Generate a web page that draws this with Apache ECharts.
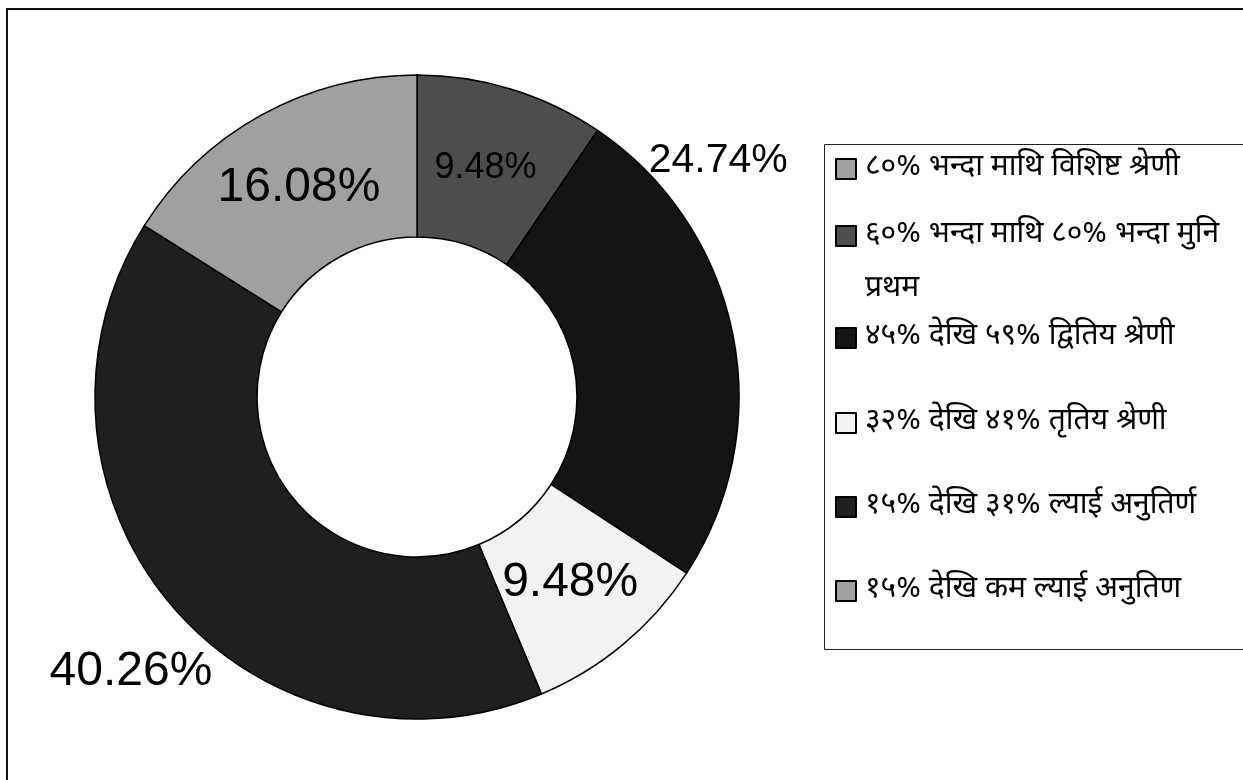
<!DOCTYPE html>
<html>
<head>
<meta charset="utf-8">
<script src="https://cdn.jsdelivr.net/npm/echarts@6/dist/echarts.min.js"></script>
<style>
html,body{margin:0;padding:0;background:#fff;}
#chart{width:1243px;height:780px;}
</style>
</head>
<body>
<div id="chart"></div>
<script>
// ---- data ----
const categories = [
  '८०% भन्दा माथि विशिष्ट श्रेणी',
  '६०% भन्दा माथि ८०% भन्दा मुनि प्रथम',
  '४५% देखि ५९% द्वितिय श्रेणी',
  '३२% देखि ४१% तृतिय श्रेणी',
  '१५% देखि ३१% ल्याई अनुतिर्ण',
  '१५% देखि कम ल्याई अनुतिण'
];
const values = [0, 9.48, 24.74, 9.48, 40.26, 16.08];

// ---- styles ----
const colors = ['#a0a0a0', '#4d4d4d', '#141414', '#f2f2f2', '#1f1f1f', '#a0a0a0'];
const labelFont = [48, 36, 41, 48, 48, 48];
const labelShift = { 1: [-3, 4], 2: [62, -188], 3: [-3, -2], 4: [-100, 117], 5: [0, 4] };
const legendCenters = [169, 236, 338, 423, 507, 591];
const devFont = "'Noto Sans Devanagari','Lohit Devanagari','Mangal','FreeSans',sans-serif";
const LH = 54;

const chart = echarts.init(document.getElementById('chart'), null, {renderer: 'canvas'});

const pieData = categories.map((n, i) => ({
  name: n,
  value: values[i],
  itemStyle: { color: colors[i] },
  label: { fontSize: labelFont[i] }
}));

const legends = categories.map((n, i) => {
  const twoLine = n.indexOf('प्रथम') >= 0;
  return {
    data: [n],
    orient: 'vertical',
    left: 835,
    top: twoLine ? legendCenters[i] - 1.5 * LH : legendCenters[i] - LH / 2,
    padding: 0,
    itemWidth: 20,
    itemHeight: 20,
    icon: 'rect',
    selectedMode: false,
    itemStyle: { borderColor: '#000', borderWidth: 2 },
    formatter: function (name) {
      // wrap the long item; keep first line level with its marker
      return name.indexOf(' प्रथम') >= 0 ? '\n' + name.replace(' प्रथम', '\nप्रथम') : name;
    },
    textStyle: {
      fontFamily: devFont,
      fontSize: 30,
      color: '#000',
      lineHeight: LH,
      padding: [0, 0, 0, 4]
    }
  };
});

const option = {
  backgroundColor: '#fff',
  animation: false,
  legend: legends,
  graphic: [
    { type: 'rect', shape: { x: 7, y: 9, width: 1300, height: 800 },
      style: { fill: 'none', stroke: '#111', lineWidth: 2 }, silent: true },
    { type: 'rect', shape: { x: 824.5, y: 144.5, width: 430, height: 505 },
      style: { fill: 'none', stroke: '#222', lineWidth: 1 }, silent: true }
  ],
  series: [{
    type: 'pie',
    center: [417, 397],
    radius: [160, 322],
    startAngle: 90,
    clockwise: true,
    avoidLabelOverlap: false,
    stillShowZeroSum: true,
    itemStyle: { borderColor: '#000', borderWidth: 1.5 },
    label: {
      show: true,
      position: 'inside',
      color: '#000',
      fontFamily: "'Liberation Sans', Arial, sans-serif",
      formatter: function (p) {
        return p.value > 0 ? p.value.toFixed(2) + '%' : '';
      }
    },
    labelLine: { show: false },
    labelLayout: function (params) {
      const s = labelShift[params.dataIndex];
      if (s) return { dx: s[0], dy: s[1] };
      return {};
    },
    emphasis: { disabled: true },
    data: pieData
  }]
};
chart.setOption(option);
</script>
</body>
</html>
